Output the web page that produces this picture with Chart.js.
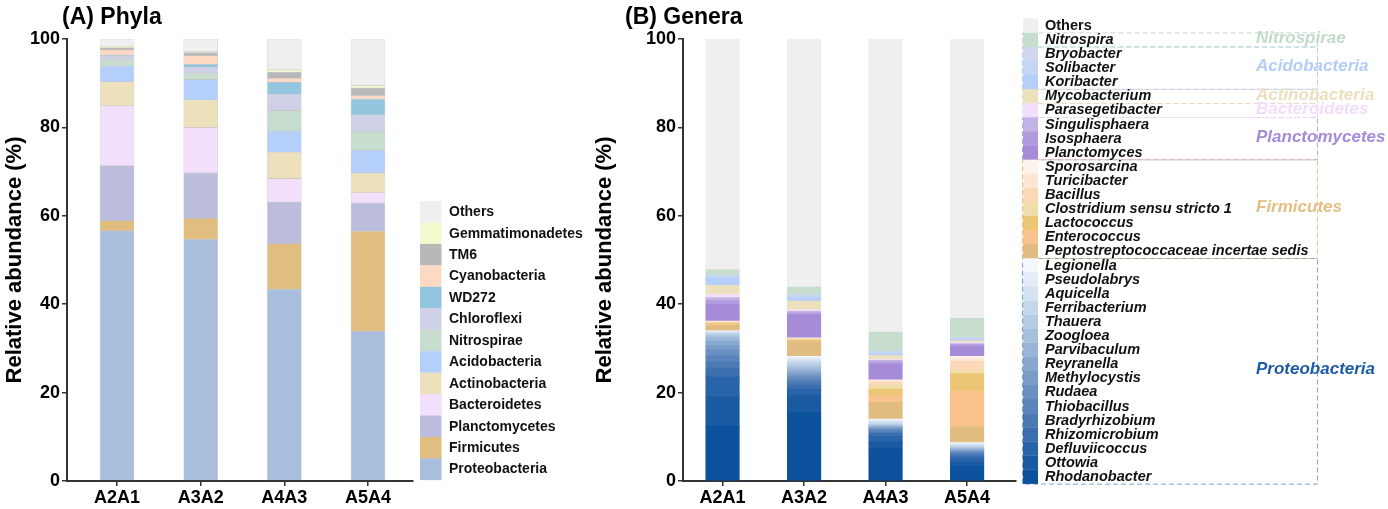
<!DOCTYPE html>
<html><head><meta charset="utf-8">
<script src="https://cdn.jsdelivr.net/npm/chart.js@4.4.1/dist/chart.umd.min.js"></script>
<style>
html,body{margin:0;padding:0;background:#fff;}
#wrap{position:relative;width:1388px;height:509px;overflow:hidden;background:#fff;}
#c1{position:absolute;left:0;top:0;}
#c2{position:absolute;left:590px;top:0;}
</style></head><body>
<div id="wrap">
<canvas id="c1" width="600" height="509"></canvas>
<canvas id="c2" width="798" height="509"></canvas>
</div>
<script>
// ---------------- DATA ----------------
const categories = ['A2A1', 'A3A2', 'A4A3', 'A5A4'];
const yTicks = [0, 20, 40, 60, 80, 100];

// Phyla, listed bottom -> top of each stack
const phyla = ['Proteobacteria','Firmicutes','Planctomycetes','Bacteroidetes','Actinobacteria','Acidobacteria','Nitrospirae','Chloroflexi','WD272','Cyanobacteria','TM6','Gemmatimonadetes','Others'];
const phylaA2A1 = [56.6, 2.3, 12.4, 13.6, 5.4, 3.6, 1.3, 0.9, 0.2, 1.2, 0.5, 0.4, 1.6];
const phylaA3A2 = [54.7, 4.7, 10.3, 10.3, 6.2, 4.6, 1.4, 1.4, 0.7, 1.9, 0.7, 0.2, 2.9];
const phylaA4A3 = [43.4, 10.3, 9.4, 5.3, 6.0, 4.8, 4.6, 3.7, 2.7, 0.9, 1.4, 0.5, 7.0];
const phylaA5A4 = [33.9, 22.6, 6.4, 2.3, 4.5, 5.1, 4.2, 3.8, 3.6, 0.8, 1.7, 0.6, 10.5];

// Genera, listed bottom -> top of each stack
const genera = ['Rhodanobacter','Ottowia','Defluviicoccus','Rhizomicrobium','Bradyrhizobium','Thiobacillus','Rudaea','Methylocystis','Reyranella','Parvibaculum','Zoogloea','Thauera','Ferribacterium','Aquicella','Pseudolabrys','Legionella',
  'Peptostreptococcaceae incertae sedis','Enterococcus','Lactococcus','Clostridium sensu stricto 1','Bacillus','Turicibacter','Sporosarcina',
  'Planctomyces','Isosphaera','Singulisphaera','Parasegetibacter','Mycobacterium','Koribacter','Solibacter','Bryobacter','Nitrospira','Others'];
const generaA2A1 = [12.4, 6.6, 4.5, 1.9, 1.5, 1.4, 1.3, 1.1, 0.9, 0.7, 0.5, 0.4, 0.3, 0.2, 0.2, 0.1,
  1.2, 0.2, 0.3, 0.2, 0.1, 0.1, 0.1,
  3.7, 0.9, 0.7, 0.75, 2.0, 1.8, 0.3, 0.2, 1.2, 52.25];
const generaA3A2 = [15.4, 3.9, 1.5, 0.9, 0.8, 0.7, 0.6, 0.5, 0.5, 0.5, 0.6, 0.6, 0.5, 0.5, 0.4, 0.3,
  3.3, 0.1, 0.2, 0.3, 0.1, 0.1, 0.1,
  5.2, 0.4, 0.4, 0.3, 2.0, 0.6, 0.6, 0.3, 1.7, 56.1];
const generaA4A3 = [7.4, 1.4, 1.5, 0.5, 0.4, 0.3, 0.3, 0.2, 0.2, 0.2, 0.2, 0.2, 0.3, 0.4, 0.3, 0.2,
  3.8, 1.5, 1.5, 0.9, 0.7, 0.3, 0.2,
  3.5, 0.5, 0.4, 0.2, 0.9, 0.3, 0.4, 0.3, 4.3, 66.3];
const generaA5A4 = [3.3, 0.9, 1.0, 0.5, 0.4, 0.3, 0.3, 0.2, 0.2, 0.2, 0.2, 0.2, 0.3, 0.3, 0.2, 0.2,
  3.6, 8.1, 3.9, 0.8, 2.0, 0.6, 0.5,
  2.2, 0.4, 0.3, 0.2, 0.4, 0.2, 0.3, 0.3, 4.3, 63.2];

// Phylum groups of the genera legend (bottom -> top), number of genera in each
const groupNames = ['Proteobacteria','Firmicutes','Planctomycetes','Bacteroidetes','Actinobacteria','Acidobacteria','Nitrospirae'];
const groupSizes = [16, 7, 3, 1, 1, 3, 1];

// ---------------- STYLE ----------------
const FONT = '"Liberation Sans", Arial, Helvetica, sans-serif';
const phylaColors = ['#a8bedc','#e1bd80','#bcbddc','#f2dffb','#ece0bd','#b5cffb','#c7ddce','#d0d1e6','#93c5de','#fdd9c4','#b8b8b8','#f2fbd0','#efefef'];
const generaColors = ['#0b519c','#1a5aa2','#2a64a8','#3a6eae','#4a79b4','#5a84ba','#6a90c1','#7a9cc8','#89a8cf','#98b4d6','#a7c0dd','#b6cce4','#c5d7eb','#d4e2f1','#e3edf7','#f3f8fd',
  '#e0bc80','#fac28c','#ebc775','#f1dcab','#fad8b8','#fde6d4','#fef3ea',
  '#a68bd8','#b19ade','#c1b3e3','#f2dffb','#ece0bd','#b5cffb','#c5d5f5','#d0d8ee','#c7ddce','#efefef'];
const groupTextColors = ['#1f5ca8','#e3bf84','#a68bd8','#f2dcfb','#ecdfbc','#b3cdf9','#c2dbca'];
const groupLineColors = ['#7f9fcc','#e3c28c','#b9a6e0','#f0d8fa','#eadcb8','#b3cdf9','#c2dbca'];

function buildDatasets(names, colors, perSample, border) {
  return names.map((n, i) => ({
    label: n,
    data: perSample.map((arr, k) => ({x: k, y: arr[i]})),
    backgroundColor: colors[i],
    borderColor: 'rgba(110,110,110,0.28)',
    borderWidth: border,
    borderSkipped: false
  }));
}

function axisOpts(minX, maxX, thick) {
  const tickFont = {family: FONT, size: 18, weight: 'bold'};
  const gridCfg = {display: true, drawOnChartArea: false, drawTicks: true, tickLength: 5, color: '#333', lineWidth: 1.5, offset: false};
  return {
    x: {
      type: 'linear', stacked: true, min: minX, max: maxX, offset: false,
      afterBuildTicks: s => { s.ticks = categories.map((c, i) => ({value: i})); },
      afterFit: s => { s.height = 28; },
      ticks: {autoSkip: false, maxRotation: 0, padding: 1, color: '#000', font: tickFont,
              callback: v => categories[Math.round(v)] || ''},
      grid: gridCfg,
      border: {display: true, color: '#333', width: 2}
    },
    y: {
      stacked: true, min: 0, max: 100,
      afterBuildTicks: s => { s.ticks = yTicks.map(v => ({value: v})); },
      afterFit: s => { s.width = thick; },
      ticks: {padding: 2, color: '#000', font: tickFont},
      grid: gridCfg,
      border: {display: true, color: '#333', width: 2},
      title: {display: true, text: 'Relative abundance (%)', color: '#000',
              font: {family: FONT, size: 22, weight: 'bold'}, padding: {top: 2, bottom: 0}}
    }
  };
}

// ---------------- LEFT CHART (Phyla) ----------------
const leftDecor = {
  id: 'leftDecor',
  afterDraw(chart) {
    const ctx = chart.ctx;
    ctx.save();
    ctx.fillStyle = '#000';
    ctx.font = 'bold 23px ' + FONT;
    ctx.textBaseline = 'alphabetic';
    ctx.textAlign = 'left';
    ctx.fillText('(A) Phyla', 62, 24);
    // legend
    const top = 201, rowH = 21.45;
    ctx.font = 'bold 14px ' + FONT;
    ctx.textBaseline = 'middle';
    const n = phyla.length;
    for (let k = 0; k < n; k++) {
      const i = n - 1 - k;
      const y = top + k * rowH;
      ctx.fillStyle = phylaColors[i];
      ctx.fillRect(420, y, 21.5, rowH + 0.3);
      ctx.fillStyle = '#111';
      ctx.fillText(phyla[i], 449, y + rowH / 2 + 0.5);
    }
    ctx.restore();
  }
};

new Chart(document.getElementById('c1'), {
  type: 'bar',
  data: {datasets: buildDatasets(phyla, phylaColors, [phylaA2A1, phylaA3A2, phylaA4A3, phylaA5A4], 0.6)},
  options: {
    responsive: false, animation: false, devicePixelRatio: 1,
    barThickness: 34,
    layout: {padding: {left: 0, right: 600 - 413, top: 39, bottom: 0}},
    plugins: {legend: {display: false}, tooltip: {enabled: false}, title: {display: false}},
    scales: axisOpts(-0.598, 3.538, 67)
  },
  plugins: [leftDecor]
});

// ---------------- RIGHT CHART (Genera) ----------------
const OFF = 590;
const rightDecor = {
  id: 'rightDecor',
  afterDraw(chart) {
    const ctx = chart.ctx;
    ctx.save();
    ctx.fillStyle = '#000';
    ctx.font = 'bold 23px ' + FONT;
    ctx.textBaseline = 'alphabetic';
    ctx.textAlign = 'left';
    ctx.fillText('(B) Genera', 625 - OFF, 24);

    const top = 18.3, rowH = 14.1;
    const n = genera.length;
    const rowTop = i => top + (n - 1 - i) * rowH;   // i = index bottom->top
    // dashed group boxes
    let start = 0;
    ctx.setLineDash([5, 3]);
    ctx.lineWidth = 1;
    const boxL = 1022 - OFF, boxR = 1317 - OFF;
    for (let g = 0; g < groupNames.length; g++) {
      const first = start, last = start + groupSizes[g] - 1;
      const yTop = rowTop(last), yBot = rowTop(first) + rowH;
      ctx.strokeStyle = groupLineColors[g];
      ctx.strokeRect(boxL + 0.5, yTop + 0.5, boxR - boxL, yBot - yTop);
      start += groupSizes[g];
    }
    ctx.setLineDash([]);
    // colour boxes + names
    ctx.textBaseline = 'middle';
    for (let i = 0; i < n; i++) {
      const y = rowTop(i);
      ctx.fillStyle = generaColors[i];
      ctx.fillRect(1023 - OFF, y, 15, rowH + 0.3);
      ctx.fillStyle = '#111';
      ctx.font = (genera[i] === 'Others' ? 'bold ' : 'italic bold ') + '14.5px ' + FONT;
      ctx.fillText(genera[i], 1045 - OFF, y + rowH / 2 + 0.5);
    }
    // group labels
    start = 0;
    ctx.font = 'italic bold 17px ' + FONT;
    for (let g = 0; g < groupNames.length; g++) {
      const first = start, last = start + groupSizes[g] - 1;
      const yTop = rowTop(last), yBot = rowTop(first) + rowH;
      ctx.fillStyle = groupTextColors[g];
      ctx.fillText(groupNames[g], 1256 - OFF, (yTop + yBot) / 2 - 1);
      start += groupSizes[g];
    }
    ctx.restore();
  }
};

new Chart(document.getElementById('c2'), {
  type: 'bar',
  data: {datasets: buildDatasets(genera, generaColors, [generaA2A1, generaA3A2, generaA4A3, generaA5A4], 0)},
  options: {
    responsive: false, animation: false, devicePixelRatio: 1,
    barThickness: 33.5,
    layout: {padding: {left: 0, right: 798 - 426, top: 39, bottom: 0}},
    plugins: {legend: {display: false}, tooltip: {enabled: false}, title: {display: false}},
    scales: axisOpts(-0.485, 3.60, 93)
  },
  plugins: [rightDecor]
});
</script>
</body></html>
